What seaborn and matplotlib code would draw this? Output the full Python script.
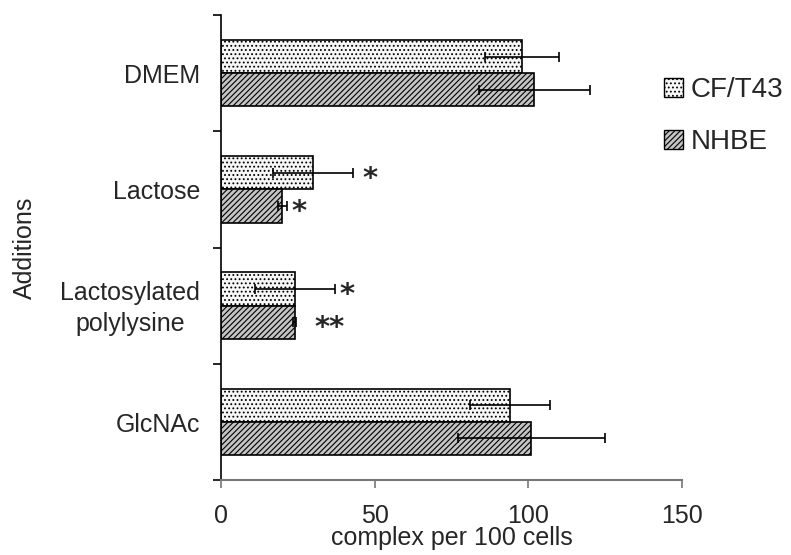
import numpy as np
import pandas as pd
import matplotlib
matplotlib.use("Agg")
import matplotlib.pyplot as plt
from matplotlib.patches import Patch
from matplotlib.transforms import ScaledTranslation
import seaborn as sns

# Data
categories = ["DMEM", "Lactose", "Lactosylated\npolylysine", "GlcNAc"]
cell_lines = ["CF/T43", "NHBE"]
cf_values = [98, 30, 24, 94]
cf_errors = [12, 13, 13, 13]
nhbe_values = [102, 20, 24, 101]
nhbe_errors = [18, 1.5, 0.5, 24]
# significance marks: (category index, cell line index, text, x position)
marks = [(1, 0, "*", 46), (1, 1, "*", 23), (2, 0, "*", 38.5), (2, 1, "**", 30.5)]
x_ticks = [0, 50, 100, 150]

df = pd.DataFrame({
    "Additions": categories * 2,
    "line": [cell_lines[0]] * 4 + [cell_lines[1]] * 4,
    "value": cf_values + nhbe_values,
})

sns.set_theme(style="white")
plt.rcParams["font.family"] = ["Liberation Sans", "DejaVu Sans"]
plt.rcParams["hatch.linewidth"] = 0.8

FS = 18

fig = plt.figure(figsize=(7.91, 5.55), dpi=100)
ax = fig.add_axes([221 / 791, 1 - 480 / 555, 461 / 791, 465 / 555])

styles = {
    "CF/T43": dict(face="#f6f6f6", hatch="...."),
    "NHBE": dict(face="#c4c4c4", hatch="//////"),
}

sns.barplot(data=df, x="value", y="Additions", hue="line", orient="h",
            order=categories, hue_order=cell_lines, width=0.57,
            errorbar=None, ax=ax, legend=False,
            palette={k: v["face"] for k, v in styles.items()})

errors = [cf_errors, nhbe_errors]
values = [cf_values, nhbe_values]
for j, (container, line) in enumerate(zip(ax.containers, cell_lines)):
    ys = []
    for bar in container:
        bar.set_hatch(styles[line]["hatch"])
        bar.set_edgecolor("black")
        bar.set_linewidth(1.2)
        ys.append(bar.get_y() + bar.get_height() / 2)
    ax.errorbar(values[j], ys, xerr=errors[j], fmt="none", ecolor="black",
                elinewidth=1.2, capsize=3.3, capthick=1.2, zorder=5)
    for ci, lj, txt, xpos in marks:
        if lj == j:
            ax.text(xpos, ys[ci] + 0.05, txt, fontsize=21, fontweight="bold",
                    family="DejaVu Sans", ha="left", va="center")

ax.set_xlim(0, 150)
ax.set_ylim(3.5, -0.5)
ax.set_xticks(x_ticks)
ax.set_xticklabels([str(t) for t in x_ticks], fontsize=FS)

# category boundaries carry the tick marks, centres carry the labels
ax.set_yticks([-0.5, 0.5, 1.5, 2.5, 3.5])
ax.set_yticklabels([])
ax.set_yticks(range(len(categories)), minor=True)
ax.set_yticklabels(categories, minor=True, fontsize=FS, ha="right",
                   va="center", multialignment="center", linespacing=1.4)
ax.tick_params(axis="y", which="minor", length=0, pad=15)
ax.tick_params(axis="y", which="major", length=6, width=1.2, color="black",
               left=True, direction="out")
ax.tick_params(axis="x", which="major", length=6, width=1.2, color="#777777",
               bottom=True, direction="out", pad=11)

# nudge the category labels slightly downward
shift = ScaledTranslation(0, -3 / 100, fig.dpi_scale_trans)
for lab in ax.get_yticklabels(minor=True):
    lab.set_transform(lab.get_transform() + shift)

for s in ["top", "right"]:
    ax.spines[s].set_visible(False)
ax.spines["left"].set_color("black")
ax.spines["left"].set_linewidth(1.2)
ax.spines["bottom"].set_color("#777777")
ax.spines["bottom"].set_linewidth(1.5)

ax.set_xlabel("complex per 100 cells", fontsize=FS, labelpad=-1)
ax.set_ylabel("Additions", fontsize=FS)
ax.yaxis.set_label_coords(-0.40, 0.5)

handles = [Patch(facecolor=styles[l]["face"], edgecolor="black",
                 hatch=styles[l]["hatch"], linewidth=1.0, label=l)
           for l in cell_lines]
fig.legend(handles=handles, loc="upper left",
           bbox_to_anchor=(664 / 791, 1 - 77 / 555), frameon=False,
           fontsize=20, handlelength=0.7, handleheight=0.7,
           handletextpad=0.25, labelspacing=0.95, borderpad=0, borderaxespad=0)

fig.savefig("out.png", dpi=100)
